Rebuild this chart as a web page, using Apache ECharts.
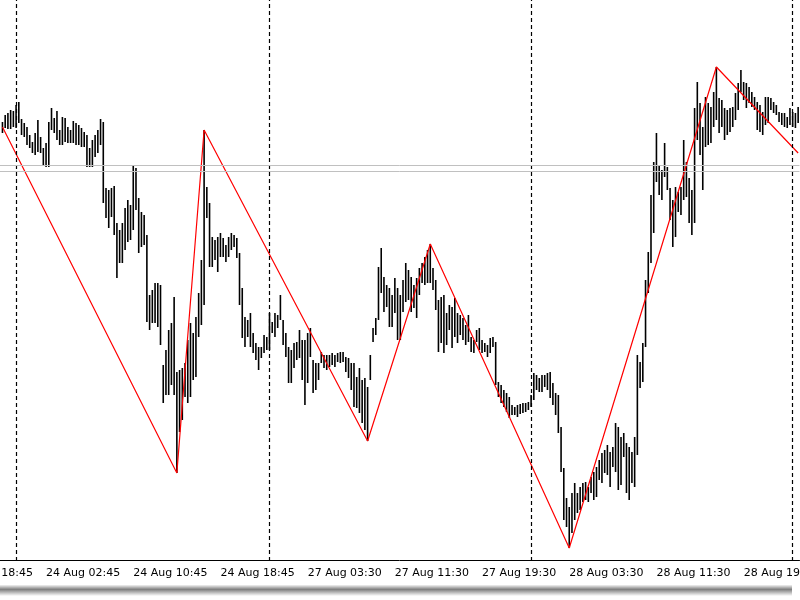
<!DOCTYPE html>
<html>
<head>
<meta charset="utf-8">
<title>M15 bars with zigzag</title>
<script src="https://cdn.jsdelivr.net/npm/echarts@6/dist/echarts.min.js"></script>
<style>
  html, body { margin: 0; padding: 0; background: #fff; }
  #chart { width: 800px; height: 600px; }
</style>
</head>
<body>
<div id="chart"></div>
<script>
// trading sessions on the chart (15 minute bars, UTC)
const sessions = [
  ['2012-08-23T18:45Z', '2012-08-24T23:00Z'],
  ['2012-08-27T00:00Z', '2012-08-29T00:30Z'],
]
const firstBar = 16 // 23 Aug 22:45, first bar in view

const tickLabels = [
  '23 Aug 18:45', '24 Aug 02:45', '24 Aug 10:45', '24 Aug 18:45', '27 Aug 03:30',
  '27 Aug 11:30', '27 Aug 19:30', '28 Aug 03:30', '28 Aug 11:30', '28 Aug 19:30',
]
const daySeparators = ['24 Aug 00:00', '27 Aug 00:00', '28 Aug 00:00', '29 Aug 00:00']
const priceLines = [395, 389]

const barHigh = [
  438, 445, 447, 450, 449, 455, 458, 441, 437, 433,
  425, 418, 427, 440, 423, 412, 417, 438, 452, 442,
  449, 430, 443, 442, 433, 430, 439, 437, 435, 432,
  428, 425, 412, 420, 425, 430, 441, 438, 372, 370,
  372, 374, 337, 330, 337, 352, 360, 355, 395, 392,
  362, 348, 345, 325, 265, 270, 277, 277, 275, 195,
  210, 230, 237, 263, 188, 190, 192, 197, 220, 237,
  227, 243, 267, 300, 430, 373, 357, 323, 320, 323,
  327, 322, 315, 323, 327, 325, 322, 307, 272, 243,
  240, 247, 227, 217, 213, 213, 225, 223, 247, 238,
  247, 245, 265, 240, 227, 213, 210, 217, 218, 230,
  220, 220, 227, 232, 200, 197, 197, 208, 205, 205,
  205, 207, 205, 207, 208, 208, 203, 202, 197, 197,
  183, 192, 180, 182, 173, 205, 232, 242, 293, 312,
  283, 275, 272, 265, 282, 272, 265, 280, 297, 290,
  283, 275, 282, 292, 297, 303, 310, 316, 292, 280,
  260, 263, 265, 247, 255, 253, 262, 247, 245, 242,
  235, 245, 223, 220, 230, 232, 220, 217, 215, 222,
  223, 218, 178, 175, 170, 167, 163, 155, 153, 155,
  156, 157, 157, 158, 165, 187, 185, 182, 185, 185,
  187, 188, 177, 167, 165, 133, 92, 62, 53, 67,
  77, 67, 73, 77, 78, 73, 83, 88, 93, 100,
  107, 110, 115, 108, 113, 137, 133, 123, 127, 117,
  113, 108, 123, 205, 198, 217, 280, 308, 365, 398,
  427, 395, 390, 417, 393, 372, 360, 373, 368, 373,
  420, 398, 382, 370, 452, 478, 457, 433, 463, 457,
  453, 468, 493, 462, 460, 452, 450, 452, 453, 467,
  477, 490, 478, 477, 473, 468, 463, 458, 455, 448,
  463, 463, 462, 458, 455, 448, 447, 447, 443, 452,
  448, 447, 453,
]
const barLow = [
  427, 432, 431, 431, 433, 432, 437, 425, 423, 415,
  412, 407, 405, 408, 407, 395, 393, 393, 430, 427,
  420, 415, 415, 418, 417, 417, 417, 415, 415, 413,
  413, 393, 393, 393, 403, 407, 415, 357, 342, 332,
  343, 325, 282, 297, 297, 310, 318, 320, 330, 350,
  307, 313, 315, 238, 230, 237, 237, 233, 215, 157,
  165, 165, 175, 165, 87, 128, 140, 163, 157, 163,
  180, 183, 223, 235, 255, 342, 293, 293, 300, 288,
  303, 303, 298, 303, 310, 313, 302, 255, 222, 213,
  223, 213, 207, 200, 190, 202, 207, 210, 210, 227,
  223, 232, 240, 215, 203, 177, 177, 192, 200, 202,
  180, 155, 177, 203, 167, 170, 180, 197, 192, 190,
  193, 195, 193, 198, 197, 198, 188, 182, 170, 153,
  152, 147, 137, 130, 119, 180, 218, 225, 240, 267,
  248, 253, 233, 233, 247, 220, 220, 248, 258, 260,
  248, 252, 242, 265, 277, 275, 277, 277, 270, 250,
  208, 217, 207, 215, 230, 212, 223, 217, 225, 220,
  215, 218, 208, 207, 218, 210, 207, 208, 203, 207,
  213, 175, 163, 157, 153, 148, 142, 145, 145, 143,
  146, 147, 148, 150, 153, 160, 170, 168, 168, 173,
  170, 162, 155, 145, 127, 88, 40, 33, 12, 27,
  40, 47, 50, 58, 60, 58, 67, 60, 63, 80,
  77, 87, 85, 73, 93, 88, 70, 75, 103, 67,
  60, 77, 73, 105, 172, 178, 213, 267, 297, 327,
  378, 365, 360, 383, 370, 340, 313, 323, 348, 345,
  360, 363, 337, 325, 337, 420, 405, 370, 413, 415,
  417, 433, 440, 427, 433, 420, 425, 428, 433, 440,
  450, 468, 460, 452, 457, 453, 450, 430, 428, 425,
  435, 437, 450, 447, 445, 438, 435, 433, 432, 435,
  433, 432, 437,
]

// zigzag turning points: bar number (from firstBar) and price
const zigzagBars = [0, 64, 74, 134, 157, 208, 262, 292]
const zigzagValues = [433, 87, 430, 119, 316, 12, 493, 407]

const MONTHS = ['Jan', 'Feb', 'Mar', 'Apr', 'May', 'Jun', 'Jul', 'Aug', 'Sep', 'Oct', 'Nov', 'Dec']
const pad = n => String(n).padStart(2, '0')
function fmtTime(t) {
  const d = new Date(t)
  return d.getUTCDate() + ' ' + MONTHS[d.getUTCMonth()] + ' ' + pad(d.getUTCHours()) + ':' + pad(d.getUTCMinutes())
}

const categories = []
sessions.forEach(([from, to]) => {
  for (let t = Date.parse(from); t <= Date.parse(to); t += 15 * 60000) {
    categories.push(fmtTime(t))
  }
})

const bars = barHigh.map((h, k) => [firstBar + k, barLow[k], h])
const zigzag = zigzagBars.map((k, i) => [firstBar + k, zigzagValues[i]])
const showTick = (idx, name) => tickLabels.includes(name)

const chart = echarts.init(document.getElementById('chart'))

chart.setOption({
  animation: false,
  backgroundColor: '#fff',
  grid: { left: -42.5, top: 0, width: 842, height: 561, containLabel: false, outerBoundsMode: 'none' },
  xAxis: {
    type: 'category',
    data: categories,
    axisLine: { lineStyle: { color: '#000', width: 1 } },
    axisTick: { alignWithLabel: true, length: 5, interval: showTick, lineStyle: { color: '#000' } },
    axisLabel: {
      interval: showTick,
      align: 'left',
      margin: 7,
      color: '#000',
      fontFamily: 'DejaVu Sans',
      fontSize: 11,
    },
    splitLine: { show: false },
  },
  yAxis: { type: 'value', min: -1, max: 560, show: false },
  series: [
    {
      // period separators and price level lines
      type: 'line',
      data: [],
      z: 1,
      silent: true,
      markLine: {
        silent: true,
        symbol: ['none', 'none'],
        label: { show: false },
        data: [
          ...daySeparators.map(d => ({ xAxis: d, lineStyle: { color: '#000', width: 1.2, type: [4, 3] } })),
          ...priceLines.map(p => ({ yAxis: p, lineStyle: { color: '#c0c0c0', width: 1, type: 'solid' } })),
        ],
      },
    },
    {
      type: 'custom',
      z: 2,
      silent: true,
      data: bars,
      encode: { x: 0, y: [1, 2] },
      renderItem: (params, api) => {
        const lo = api.coord([api.value(0), api.value(1)])
        const hi = api.coord([api.value(0), api.value(2)])
        return {
          type: 'line',
          shape: { x1: lo[0], y1: lo[1], x2: hi[0], y2: hi[1] },
          style: { stroke: '#000', lineWidth: 1.6 },
        }
      },
    },
    {
      type: 'line',
      z: 3,
      silent: true,
      data: zigzag,
      symbol: 'none',
      lineStyle: { color: '#ff0000', width: 1.2 },
    },
  ],
  graphic: [
    {
      // drop shadow under the chart window
      type: 'rect',
      left: 0,
      top: 585,
      shape: { width: 792, height: 11 },
      style: {
        fill: {
          type: 'linear', x: 0, y: 0, x2: 0, y2: 1,
          colorStops: [
            { offset: 0, color: 'rgba(0,0,0,0.05)' },
            { offset: 0.4, color: 'rgba(0,0,0,0.5)' },
            { offset: 1, color: 'rgba(0,0,0,0)' },
          ],
        },
      },
    },
  ],
})
</script>
</body>
</html>
